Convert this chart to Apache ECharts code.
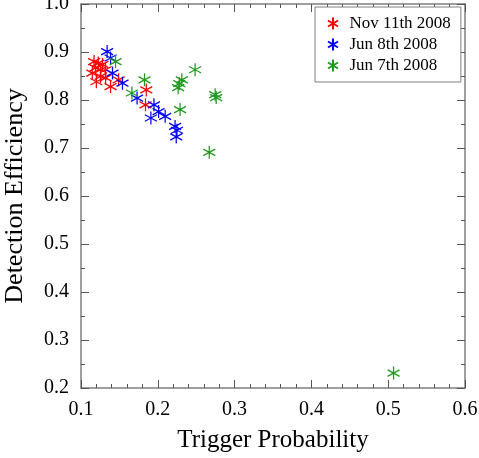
<!DOCTYPE html>
<html>
<head>
<meta charset="utf-8">
<script src="https://cdn.jsdelivr.net/npm/echarts@6/dist/echarts.min.js"></script>
<style>html,body{margin:0;padding:0;background:#fff;}#c{width:479px;height:458px;}</style>
</head>
<body>
<div id="c"></div>
<script>
var xTicks = [0.1, 0.2, 0.3, 0.4, 0.5, 0.6];
var yTicks = [0.2, 0.3, 0.4, 0.5, 0.6, 0.7, 0.8, 0.9, 1.0];
var seriesNames = ['Nov 11th 2008', 'Jun 8th 2008', 'Jun 7th 2008'];
var nov11 = [
  [0.117, 0.880], [0.1225, 0.877], [0.128, 0.874], [0.119, 0.867], [0.1255, 0.863],
  [0.132, 0.863], [0.1147, 0.856], [0.1255, 0.849], [0.132, 0.846], [0.149, 0.842],
  [0.120, 0.838], [0.1385, 0.828], [0.185, 0.821], [0.184, 0.790]
];
var jun8 = [
  [0.134, 0.901], [0.1385, 0.8875], [0.141, 0.856], [0.154, 0.835], [0.173, 0.804],
  [0.195, 0.790], [0.201, 0.776], [0.191, 0.7625], [0.2096, 0.766], [0.2225, 0.745],
  [0.225, 0.737], [0.224, 0.723]
];
var jun7 = [
  [0.145, 0.880], [0.1663, 0.8146], [0.1827, 0.842], [0.2486, 0.863], [0.2313, 0.842],
  [0.228, 0.834], [0.2265, 0.8256], [0.2747, 0.811], [0.276, 0.805], [0.229, 0.780],
  [0.267, 0.691], [0.507, 0.231]
];
var colors = ['#ff0000', '#0000ff', '#1f9a1f'];

var star = 'path://M5,0L5,12M0,3L10,9M0,9L10,3';
var font = 'Liberation Serif';
var axisGrey = '#7f7f7f';

function fmt(v) { return v.toFixed(1); }

function mkSeries(name, data, color) {
  return {
    name: name, type: 'scatter', data: data,
    symbol: star, symbolSize: [12, 13],
    itemStyle: { color: 'rgba(0,0,0,0)', borderColor: color, borderWidth: 1.3, opacity: 1 },
    emphasis: { disabled: true },
    xAxisIndex: 0, yAxisIndex: 0
  };
}

var xBase = {
  min: xTicks[0], max: xTicks[xTicks.length - 1], interval: 0.1, type: 'value',
  axisLine: { show: true, onZero: false, lineStyle: { color: axisGrey, width: 1.5 } },
  axisTick: { show: true, inside: true, length: 8, lineStyle: { color: '#555', width: 1 } },
  minorTick: { show: true, splitNumber: 5, length: 4, lineStyle: { color: '#555', width: 1 } },
  splitLine: { show: false }
};
var yBase = {
  min: yTicks[0], max: yTicks[yTicks.length - 1], interval: 0.1, type: 'value',
  axisLine: { show: true, onZero: false, lineStyle: { color: axisGrey, width: 1.5 } },
  axisTick: { show: true, inside: true, length: 8, lineStyle: { color: '#555', width: 1 } },
  minorTick: { show: true, splitNumber: 2, length: 4, lineStyle: { color: '#555', width: 1 } },
  splitLine: { show: false }
};

var chart = echarts.init(document.getElementById('c'), null, { renderer: 'canvas' });
chart.setOption({
  animation: false,
  backgroundColor: '#fff',
  grid: { left: 81, right: 14, top: 4, bottom: 70, containLabel: false, outerBoundsMode: 'none' },
  xAxis: [
    Object.assign({}, xBase, {
      position: 'bottom',
      name: 'Trigger Probability', nameLocation: 'middle', nameGap: 40,
      nameTextStyle: { fontFamily: font, fontSize: 25, color: '#000' },
      axisLabel: { show: true, formatter: fmt, fontFamily: font, fontSize: 20, color: '#000', margin: 12 }
    }),
    Object.assign({}, xBase, { position: 'top', axisLabel: { show: false } })
  ],
  yAxis: [
    Object.assign({}, yBase, {
      position: 'left',
      name: 'Detection Efficiency', nameLocation: 'middle', nameGap: 53,
      nameTextStyle: { fontFamily: font, fontSize: 26, color: '#000' },
      axisLabel: { show: true, formatter: fmt, fontFamily: font, fontSize: 20, color: '#000', margin: 12 }
    }),
    Object.assign({}, yBase, { position: 'right', axisLabel: { show: false } })
  ],
  legend: {
    show: true, orient: 'vertical', left: 315, top: 7,
    data: seriesNames.map(function (n) { return { name: n, icon: star }; }),
    itemWidth: 11, itemHeight: 12, itemGap: 4,
    padding: [8, 10, 8, 12],
    borderColor: axisGrey, borderWidth: 1, backgroundColor: '#fff',
    textStyle: { fontFamily: font, fontSize: 17, color: '#000', lineHeight: 17, padding: [0, 0, 0, 6] },
    selectedMode: false
  },
  series: [
    mkSeries(seriesNames[0], nov11, colors[0]),
    mkSeries(seriesNames[1], jun8, colors[1]),
    mkSeries(seriesNames[2], jun7, colors[2])
  ]
});
</script>
</body>
</html>
